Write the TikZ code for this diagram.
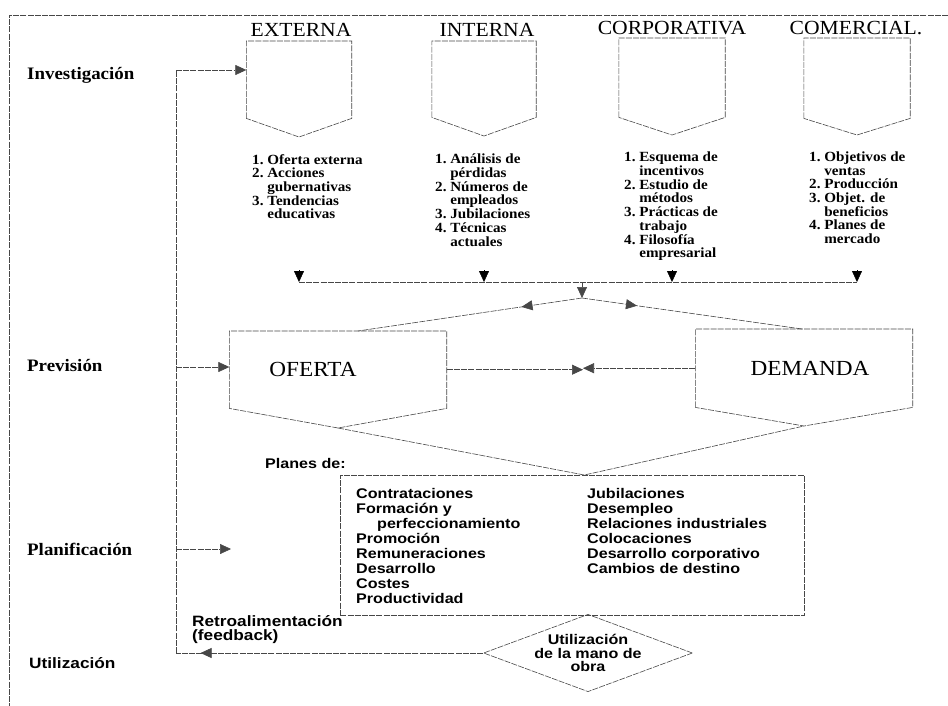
\documentclass[tikz,border=0pt]{standalone}
\usepackage{fontspec}
\setmainfont{Liberation Serif}
\newfontfamily\serifwide[FakeStretch=1.08]{Liberation Serif}
\newfontfamily\sanswide[FakeStretch=1.15]{Liberation Sans}
\usetikzlibrary{arrows.meta,shapes.geometric,decorations.markings}

% Box with a pointed bottom: name, centre x, top y, width, side height, point depth, text
\newcommand{\pentbox}[7]{%
  \node[boxlabel, minimum width=#4pt, minimum height=#5pt, anchor=north] (#1) at (#2,#3) {#7};
  \coordinate (#1-tip) at (#2,#3+#5+#6);
  \draw[lnk] (#1.south west) -- (#1.north west) -- (#1.north east)
             -- (#1.south east) -- (#1-tip) -- cycle;
}

\tikzset{
  lnk/.style={draw=black!72, line width=0.6pt, dash pattern=on 6pt off 1.2pt},
  tip/.style={-{Triangle[length=11pt,width=10pt]}},
  midtip/.style={postaction={decorate},
    decoration={markings, mark=at position #1 with {\arrow{Triangle[length=11pt,width=10pt]}}}},
  stage/.style={inner sep=0pt, font=\serifwide\bfseries\fontsize{17.5}{19}\selectfont},
  stagesans/.style={inner sep=0pt, font=\sanswide\bfseries\fontsize{15}{16}\selectfont},
  head/.style={inner sep=0pt, anchor=base, font=\serifwide\fontsize{20}{22}\selectfont},
  boxlabel/.style={inner sep=0pt, font=\serifwide\fontsize{21.5}{23}\selectfont},
  list/.style={inner sep=0pt, anchor=north west, font=\serifwide\bfseries\fontsize{14}{13.2}\selectfont},
  plans/.style={inner sep=0pt, font=\sanswide\bfseries\fontsize{14}{15}\selectfont},
  util/.style={inner sep=0pt, font=\sanswide\bfseries\fontsize{14}{13.6}\selectfont},
}

\begin{document}
\begin{tikzpicture}[x=1pt,y=-1pt]
\useasboundingbox (0,0) rectangle (948,706);
\fill[white] (0,0) rectangle (948,706);

% outer frame
\draw[lnk] (948,15) -- (9,15) -- (9,706);

% stage labels
\node[stage, anchor=west] (l-inv) at (27,75) {Investigación};
\node[stage, anchor=west] (l-pre) at (27,366) {Previsión};
\node[stage, anchor=west] (l-pla) at (27,549) {Planificación};
\node[stagesans, anchor=west] (l-uti) at (29,663) {Utilización};

% research sources
\node[head] (h-ext) at (301,37) {EXTERNA};
\node[head] (h-int) at (487,37) {INTERNA};
\node[head] (h-cor) at (672,35) {CORPORATIVA};
\node[head] (h-com) at (856,35) {COMERCIAL.};

\pentbox{ext}{299}{41}{105}{77}{19}{}
\pentbox{int}{484}{41}{104}{76}{19}{}
\pentbox{cor}{672}{38}{106}{79}{18}{}
\pentbox{com}{857}{38}{106}{80}{17}{}

\node[list] (t-ext) at (252,154) {\begin{tabular}{@{}l@{\ }l@{}}
1. & Oferta externa\\ 2. & Acciones\\ & gubernativas\\ 3. & Tendencias\\ & educativas
\end{tabular}};
\node[list] (t-int) at (435,154) {\begin{tabular}{@{}l@{\ }l@{}}
1. & Análisis de\\ & pérdidas\\ 2. & Números de\\ & empleados\\ 3. & Jubilaciones\\
4. & Técnicas\\ & actuales
\end{tabular}};
\node[list] (t-cor) at (624,152) {\begin{tabular}{@{}l@{\ }l@{}}
1. & Esquema de\\ & incentivos\\ 2. & Estudio de\\ & métodos\\ 3. & Prácticas de\\
& trabajo\\ 4. & Filosofía\\ & empresarial
\end{tabular}};
\node[list] (t-com) at (809,152) {\begin{tabular}{@{}l@{\ }l@{}}
1. & Objetivos de\\ & ventas\\ 2. & Producción\\ 3. & Objet. de\\ & beneficios\\
4. & Planes de\\ & mercado
\end{tabular}};

% collecting line
\coordinate (bus) at (0,282);
\coordinate (j-ext) at (ext-tip |- bus);
\coordinate (j-int) at (int-tip |- bus);
\coordinate (j-cor) at (cor-tip |- bus);
\coordinate (j-com) at (com-tip |- bus);
\draw[lnk] (j-ext) -- (j-com);
\foreach \j in {j-ext,j-int,j-cor,j-com}
  \draw[tip, draw=black] ([yshift=12pt]\j) -- (\j);

% forecast boxes
\pentbox{ofe}{338}{331}{217}{77}{20}{\hspace*{-50pt}OFERTA}
\pentbox{dem}{804}{329}{217}{78}{19}{\hspace*{12pt}DEMANDA}

\coordinate (apex) at (582,298);
\draw[lnk, tip] (apex |- bus) -- (apex);
\draw[lnk, midtip=0.27] (apex) -- ([xshift=20pt]ofe.north);
\draw[lnk, midtip=0.25] (apex) -- ([xshift=-2pt]dem.north);

\coordinate (meet) at (583,369);
\draw[lnk, tip] (ofe.east) -- (ofe.east -| meet);
\draw[lnk, tip] (dem.west) -- (dem.west -| meet);

% plans
\node[plans, anchor=west] (p-lbl) at (265,463) {Planes de:};
\node[lnk, draw, inner sep=0pt, minimum width=464pt, minimum height=140pt, anchor=north west] (pln) at (340,475) {};
\node[plans, anchor=north west] (p-txt) at (356,488) {\begin{tabular}{@{}p{231pt}@{}l@{}}
Contrataciones & Jubilaciones\\
Formación y & Desempleo\\
\hspace*{21pt}perfeccionamiento & Relaciones industriales\\
Promoción & Colocaciones\\
Remuneraciones & Desarrollo corporativo\\
Desarrollo & Cambios de destino\\
Costes & \\
Productividad &
\end{tabular}};
\draw[lnk] (ofe-tip) -- ([xshift=12pt]pln.north) -- (dem-tip);

% utilisation
\node[diamond, lnk, draw, aspect=2.7, inner sep=0pt, minimum width=207pt, minimum height=76pt,
      util, align=center] (dia) at (588,653) {Utilización\\de la mano de\\obra};

% feedback loop
\coordinate (fb-top) at (176,70);
\coordinate (fb-bot) at (dia.west -| fb-top);
\draw[lnk, tip] (fb-top) -- (fb-top -| ext.west);
\coordinate (fb-pre) at (176,367);
\draw[lnk, tip] (fb-pre) -- (fb-pre -| ofe.west);
\coordinate (fb-pla) at (176,549);
\coordinate (pla-end) at (231,549);
\draw[lnk, tip] (fb-pla) -- (pla-end);
\draw[lnk, midtip=0.92] (dia.west) -- (fb-bot);
\draw[lnk] (fb-bot) -- (fb-top);
\node[util, anchor=north west, align=left, font=\sanswide\bfseries\fontsize{15}{14.5}\selectfont]
  (retro) at (192,615) {Retroalimentación\\(feedback)};

\end{tikzpicture}
\end{document}
